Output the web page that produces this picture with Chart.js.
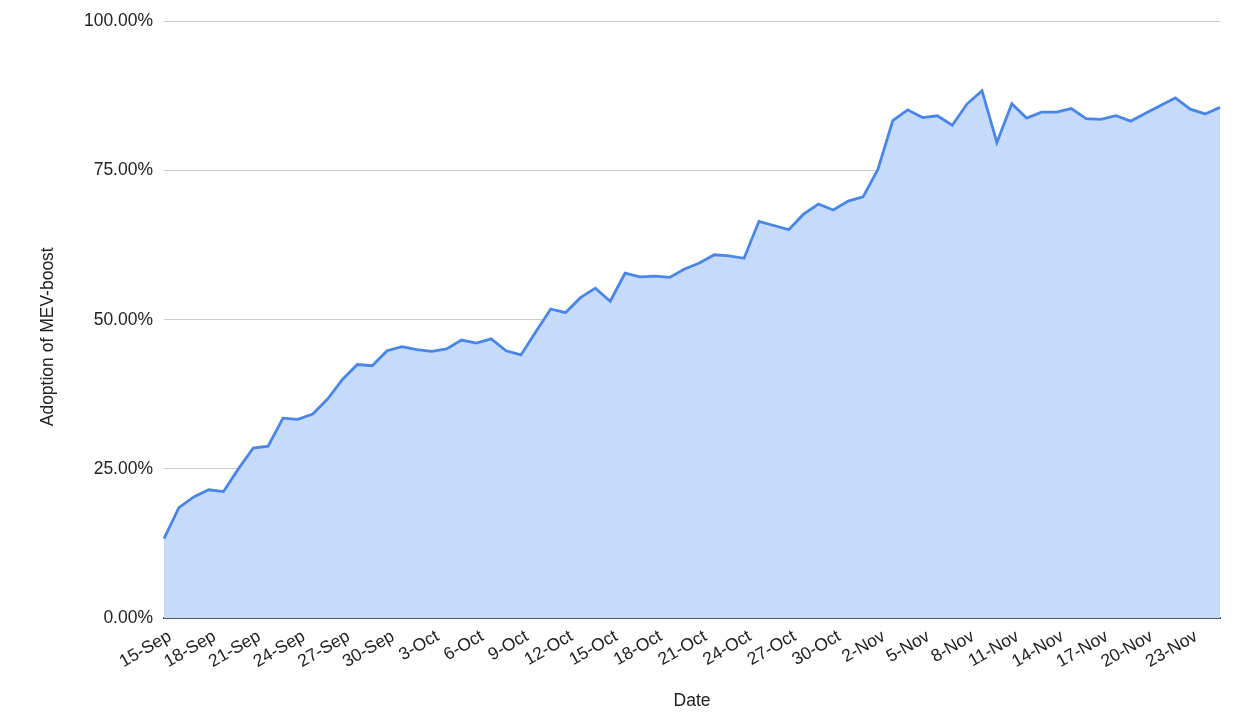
<!DOCTYPE html>
<html>
<head>
<meta charset="utf-8">
<script src="https://cdn.jsdelivr.net/npm/chart.js@4/dist/chart.umd.min.js"></script>
<style>
  html, body { margin: 0; padding: 0; background: #fff; }
  #wrap { width: 1260px; height: 718px; }
</style>
</head>
<body>
<div id="wrap"><canvas id="myChart" width="1260" height="718"></canvas></div>
<script>
// one value per day, 15-Sep .. 25-Nov
var dates = [
  "15-Sep","16-Sep","17-Sep","18-Sep","19-Sep","20-Sep","21-Sep","22-Sep","23-Sep","24-Sep",
  "25-Sep","26-Sep","27-Sep","28-Sep","29-Sep","30-Sep","1-Oct","2-Oct","3-Oct","4-Oct",
  "5-Oct","6-Oct","7-Oct","8-Oct","9-Oct","10-Oct","11-Oct","12-Oct","13-Oct","14-Oct",
  "15-Oct","16-Oct","17-Oct","18-Oct","19-Oct","20-Oct","21-Oct","22-Oct","23-Oct","24-Oct",
  "25-Oct","26-Oct","27-Oct","28-Oct","29-Oct","30-Oct","31-Oct","1-Nov","2-Nov","3-Nov",
  "4-Nov","5-Nov","6-Nov","7-Nov","8-Nov","9-Nov","10-Nov","11-Nov","12-Nov","13-Nov",
  "14-Nov","15-Nov","16-Nov","17-Nov","18-Nov","19-Nov","20-Nov","21-Nov","22-Nov","23-Nov",
  "24-Nov","25-Nov"
];

var adoption = [
  13.3, 18.5, 20.3, 21.5, 21.2, 25.0, 28.5, 28.8, 33.5, 33.3,
  34.2, 36.7, 40.0, 42.5, 42.3, 44.8, 45.5, 45.0, 44.7, 45.1,
  46.6, 46.1, 46.8, 44.8, 44.1, 48.0, 51.8, 51.2, 53.7, 55.3,
  53.1, 57.8, 57.2, 57.3, 57.1, 58.5, 59.5, 60.9, 60.7, 60.3,
  66.5, 65.8, 65.1, 67.7, 69.4, 68.4, 69.9, 70.6, 75.2, 83.4,
  85.2, 83.9, 84.2, 82.6, 86.2, 88.4, 79.7, 86.2, 83.8, 84.8,
  84.8, 85.4, 83.7, 83.6, 84.2, 83.3, 84.6, 85.9, 87.2, 85.3,
  84.5, 85.6
];

var yTicks = [0, 25, 50, 75, 100];
var labelEvery = 3;

var font = "'Liberation Sans', Arial, sans-serif";
var fontSize = 17.5;
var textColor = "#222";

// the y title sits a little below the middle of the plot, pad its end
var yTitle = "Adoption of MEV-boost" + "\u00a0\u00a0\u00a0\u00a0\u00a0\u00a0\u00a0";

var myChart = new Chart("myChart", {
  type: "line",
  data: {
    labels: dates,
    datasets: [{
      data: adoption,
      borderColor: "#4a86e8",
      backgroundColor: "#c6dafa",
      borderWidth: 2.8,
      pointRadius: 0,
      tension: 0,
      fill: "origin"
    }]
  },
  options: {
    responsive: false,
    animation: false,
    layout: { padding: { left: 0, right: 40, top: 18, bottom: 0 } },
    plugins: {
      legend: { display: false },
      tooltip: { enabled: false }
    },
    scales: {
      x: {
        offset: false,
        grid: { display: false, drawTicks: false },
        border: { display: true, color: "#555", width: 2 },
        ticks: {
          autoSkip: false,
          minRotation: 30,
          maxRotation: 30,
          padding: 8,
          labelOffset: 6,
          color: textColor,
          font: { family: font, size: fontSize },
          callback: function(v, i) { return i % labelEvery === 0 ? dates[i] : ""; }
        },
        title: {
          display: true,
          text: "Date",
          color: textColor,
          font: { family: font, size: fontSize },
          padding: { top: 0, bottom: 6 }
        },
        afterFit: function(scale) { scale.height = 100; }
      },
      y: {
        min: 0,
        max: 100,
        afterBuildTicks: function(scale) {
          scale.ticks = yTicks.map(function(v) { return { value: v }; });
        },
        grid: { color: "#cccccc", lineWidth: 1, drawTicks: false },
        border: { display: false },
        ticks: {
          padding: 11,
          color: textColor,
          font: { family: font, size: fontSize },
          callback: function(v) { return v.toFixed(2) + "%"; }
        },
        title: {
          display: true,
          text: yTitle,
          color: textColor,
          font: { family: font, size: fontSize },
          padding: { top: 38, bottom: 0 }
        },
        afterFit: function(scale) { scale.width = 164; }
      }
    }
  }
});
</script>
</body>
</html>
